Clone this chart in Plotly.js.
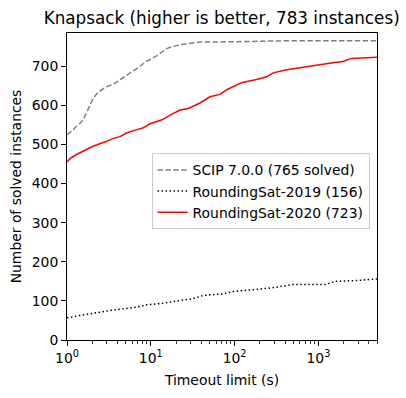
<!DOCTYPE html>
<html>
<head>
<meta charset="utf-8">
<script src="https://cdn.plot.ly/plotly-3.0.1.min.js"></script>
<style>html,body{margin:0;padding:0;background:#fff;}#chart{width:406px;height:398px;}</style>
</head>
<body>
<div id="chart"></div>
<script>
// SCIP 7.0.0 (765 solved)
const scipT = [1, 1.15, 1.32, 1.45, 1.58, 1.75, 1.89, 2.05, 2.28, 2.6, 2.99, 3.4, 3.94, 4.5, 5.18, 6.2, 7.46, 8.5, 9.8, 12, 15.5, 18, 22.3, 30, 38.6, 60, 100, 200, 400, 5000];
const scipN = [525, 535, 548, 555, 565, 585, 600, 618, 630, 640, 648, 652, 660, 668, 676, 688, 700, 710, 718, 728, 745, 750, 755, 759, 762, 762, 763, 764, 765, 765];
// RoundingSat-2019 (156)
const rs19T = [1, 1.095, 1.44, 2.07, 2.99, 4.72, 6.8, 8.96, 14.1, 22.3, 32.2, 42.4, 73.3, 96.5, 152, 219, 317, 500, 1208, 1590, 2750, 5000];
const rs19N = [57, 58, 63, 69, 74, 80, 84, 90, 94, 101, 106, 114, 118, 124, 127, 131, 135, 142, 142, 150, 152, 156];
// RoundingSat-2020 (723)
const rs20T = [1, 1.1, 1.32, 1.6, 2.07, 2.99, 3.5, 4.3, 5.2, 6.8, 8, 9.8, 12, 13.6, 17, 20, 22.3, 28, 38.6, 50.8, 66.8, 80.3, 105, 121, 183, 240, 288, 416, 598, 946, 1492, 1963, 2470, 5000];
const rs20N = [455, 465, 475, 484, 496, 508, 515, 520, 530, 538, 542, 553, 558, 563, 575, 583, 588, 592, 606, 622, 628, 640, 652, 658, 666, 673, 683, 691, 696, 703, 709, 712, 720, 723];

const xTickVals = [1, 10, 100, 1000];
const xTickText = ['10<sup>0</sup>', '10<sup>1</sup>', '10<sup>2</sup>', '10<sup>3</sup>'];
const yTickVals = [0, 100, 200, 300, 400, 500, 600, 700];

// minor log ticks: 2..9 of each decade
const xMinorVals = [];
for (const dec of xTickVals) {
  for (let m = 2; m <= 9; m++) xMinorVals.push(m * dec);
}

const font = {family: 'DejaVu Sans', size: 13.9, color: '#000'};

const traces = [
  {x: scipT, y: scipN, mode: 'lines', name: 'SCIP 7.0.0 (765 solved)',
   line: {color: '#808080', width: 1.5, dash: '5.5px,2.4px'}},
  {x: rs19T, y: rs19N, mode: 'lines', name: 'RoundingSat-2019 (156)',
   line: {color: '#000000', width: 1.5, dash: '1.5px,2.5px'}},
  {x: rs20T, y: rs20N, mode: 'lines', name: 'RoundingSat-2020 (723)',
   line: {color: '#ff0000', width: 1.5}}
];

const layout = {
  width: 406, height: 398,
  margin: {l: 67, r: 29, t: 33, b: 58},
  paper_bgcolor: '#fff', plot_bgcolor: '#fff',
  font: font,
  showlegend: true,
  title: {text: 'Knapsack (higher is better, 783 instances)', font: {family: 'DejaVu Sans', size: 16.8, color: '#000'},
          x: 0.546, xanchor: 'center', y: 0.955, yanchor: 'middle'},
  xaxis: {type: 'log', range: [0, Math.log10(5000)], tickmode: 'array', tickvals: xTickVals, ticktext: xTickText,
          ticks: 'outside', ticklen: 5, tickwidth: 1, tickcolor: '#000',
          showline: true, linecolor: '#000', linewidth: 1, mirror: true,
          showgrid: false, zeroline: false, automargin: false,
          minor: {tickmode: 'array', tickvals: xMinorVals, ticks: 'outside', ticklen: 3, tickwidth: 0.8, tickcolor: '#000', showgrid: false},
          tickfont: font,
          title: {text: 'Timeout limit (s)', font: font, standoff: 10}},
  yaxis: {range: [0, 785], tickmode: 'array', tickvals: yTickVals,
          ticks: 'outside', ticklen: 5, tickwidth: 1, tickcolor: '#000',
          showline: true, linecolor: '#000', linewidth: 1, mirror: true,
          showgrid: false, zeroline: false, automargin: false,
          tickfont: font,
          title: {text: 'Number of solved instances', font: font, standoff: 6}},
  legend: {x: 0.976, xanchor: 'right', y: 0.6075, yanchor: 'top',
           bgcolor: 'rgba(255,255,255,0.8)', bordercolor: '#cccccc', borderwidth: 1,
           font: font, tracegroupgap: 0}
};

Plotly.newPlot('chart', traces, layout, {displayModeBar: false, staticPlot: true});
</script>
</body>
</html>
